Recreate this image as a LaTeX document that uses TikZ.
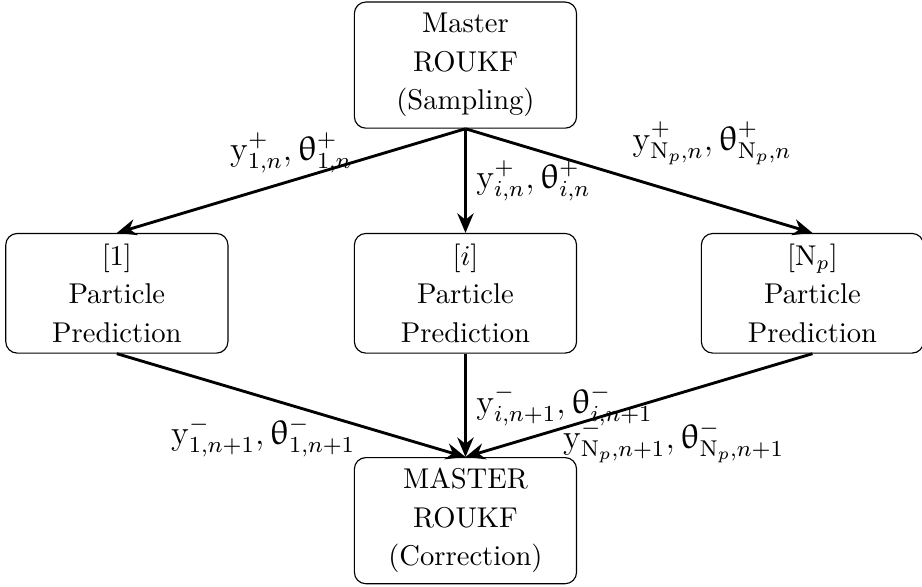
\documentclass[tikz,border=0pt]{standalone}
\usepackage{upgreek}
\usetikzlibrary{arrows.meta,positioning}

\begin{document}
\begin{tikzpicture}[
  master/.style={
    draw,
    rounded corners,
    minimum width=2.73cm,
    minimum height=1.55cm,
    align=center,
    font=\linespread{1.12}\selectfont
  },
  particle/.style={
    master,
    minimum height=1.47cm
  },
  param/.style={font=\large},
  arrow/.style={-{Stealth[length=2.4mm,width=2mm]},line width=1pt}
]
  \useasboundingbox (0,0) rectangle (11.33,-7.21);
  \node[master] (sampling) at (5.72,-0.80) {Master\\ROUKF\\(Sampling)};
  \node[particle,below=1.28cm of sampling] (predI) {$[i]$\\Particle\\Prediction};
  \node[particle,left=1.54cm of predI] (predOne) {$[1]$\\Particle\\Prediction};
  \node[particle,right=1.52cm of predI] (predNp) {$[\mathrm{N}_p]$\\Particle\\Prediction};
  \node[master,below=1.27cm of predI] (correction) {MASTER\\ROUKF\\(Correction)};
  % sampling to the particles
  \draw[arrow] (sampling.south) -- node[param,midway,above=-1pt] {$\mathrm{y}^{+}_{1,n}, \uptheta^{+}_{1,n}$} (predOne.north);
  \draw[arrow] (sampling.south) -- node[param,midway,right] {$\mathrm{y}^{+}_{i,n}, \uptheta^{+}_{i,n}$} (predI.north);
  \draw[arrow] (sampling.south) -- node[param,pos=0.45,above right] {$\mathrm{y}^{+}_{\mathrm{N}_p,n}, \uptheta^{+}_{\mathrm{N}_p,n}$} (predNp.north);
  % particles back to the correction
  \draw[arrow] (predOne.south) -- node[param,pos=0.42,below=3pt] {$\mathrm{y}^{-}_{1,n+1}, \uptheta^{-}_{1,n+1}$} (correction.north);
  \draw[arrow] (predI.south) -- node[param,midway,right] {$\mathrm{y}^{-}_{i,n+1}, \uptheta^{-}_{i,n+1}$} (correction.north);
  \draw[arrow] (predNp.south) -- node[param,pos=0.4,below=5pt] {$\mathrm{y}^{-}_{\mathrm{N}_p,n+1}, \uptheta^{-}_{\mathrm{N}_p,n+1}$} (correction.north);
\end{tikzpicture}
\end{document}
